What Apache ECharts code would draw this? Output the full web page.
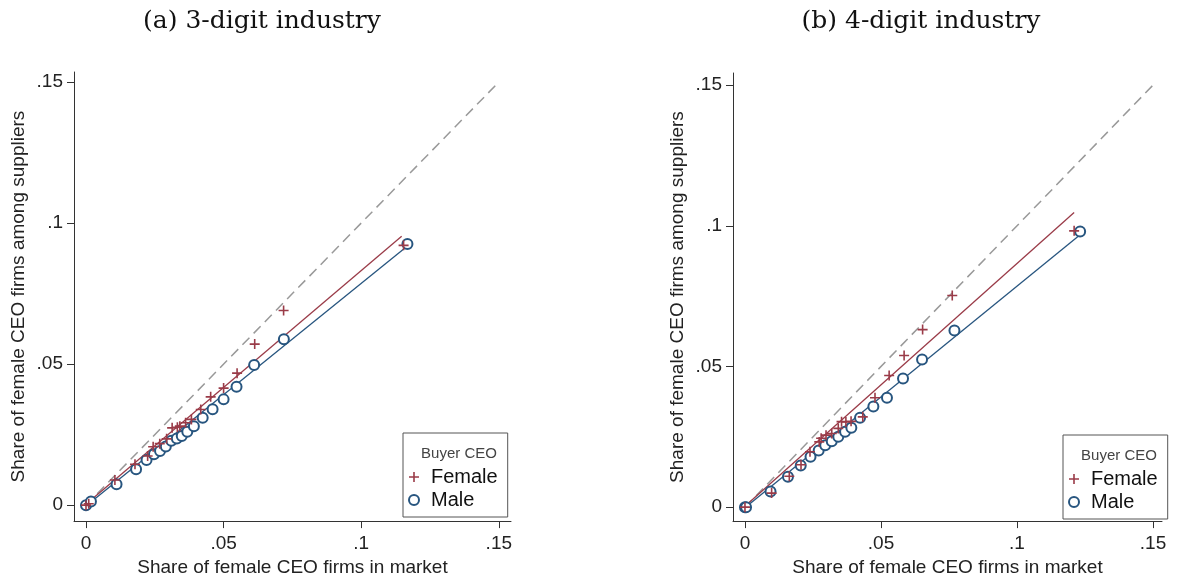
<!DOCTYPE html>
<html>
<head>
<meta charset="utf-8">
<script src="https://cdn.jsdelivr.net/npm/echarts@6/dist/echarts.min.js"></script>
<style>
html,body{margin:0;padding:0;background:#fff;}
#chart{width:1180px;height:582px;}
</style>
</head>
<body>
<div id="chart"></div>
<script>
// ---- Data ----
const panelTitles = ['(a) 3-digit industry', '(b) 4-digit industry'];
const xAxisTitle = 'Share of female CEO firms in market';
const yAxisTitle = 'Share of female CEO firms among suppliers';
const legendTitle = 'Buyer CEO';
const seriesNames = ['Female', 'Male'];
const tickValues = [0, 0.05, 0.1, 0.15];
const tickLabels = ['0', '.05', '.1', '.15'];

// Panel (a): 3-digit industry
const aFemaleX = [0, 0.001, 0.0105, 0.0178, 0.0224, 0.0244, 0.0268, 0.0293, 0.0313, 0.0332, 0.0341, 0.0362, 0.0383, 0.0417, 0.0453, 0.0500, 0.0549, 0.0613, 0.0718, 0.1154];
const aFemaleY = [0, 0.0005, 0.0089, 0.0145, 0.0174, 0.0207, 0.0218, 0.0235, 0.0274, 0.0276, 0.0280, 0.0292, 0.0304, 0.0339, 0.0384, 0.0415, 0.0468, 0.0571, 0.0690, 0.0921];
const aMaleX = [0, 0.0018, 0.0111, 0.0182, 0.0220, 0.0247, 0.0269, 0.0290, 0.0310, 0.0330, 0.0348, 0.0368, 0.0392, 0.0424, 0.0460, 0.0500, 0.0547, 0.0611, 0.0719, 0.1168];
const aMaleY = [0, 0.0013, 0.0074, 0.0127, 0.0160, 0.0180, 0.0192, 0.0208, 0.0228, 0.0236, 0.0245, 0.0260, 0.0280, 0.0310, 0.0340, 0.0375, 0.0420, 0.0497, 0.0588, 0.0926];
const aFitFemale = [[0, 0.0003], [0.1147, 0.0953]];
const aFitMale = [[0, -0.0003], [0.1159, 0.0912]];

// Panel (b): 4-digit industry
const bFemaleX = [0, 0.0098, 0.0163, 0.0206, 0.0239, 0.0273, 0.0280, 0.0298, 0.0319, 0.0343, 0.0355, 0.0371, 0.0390, 0.0433, 0.0478, 0.0530, 0.0585, 0.0653, 0.0762, 0.1210];
const bFemaleY = [0, 0.0050, 0.0110, 0.0151, 0.0197, 0.0232, 0.0245, 0.0256, 0.0262, 0.0280, 0.0304, 0.0303, 0.0305, 0.0321, 0.0389, 0.0468, 0.0539, 0.0631, 0.0752, 0.0982];
const bMaleX = [0, 0.0004, 0.0094, 0.0158, 0.0205, 0.0241, 0.0271, 0.0295, 0.0319, 0.0343, 0.0368, 0.0391, 0.0423, 0.0472, 0.0522, 0.0581, 0.0651, 0.0770, 0.1232];
const bMaleY = [0, 0, 0.0056, 0.0108, 0.0148, 0.0179, 0.0201, 0.0220, 0.0234, 0.0250, 0.0268, 0.0282, 0.0318, 0.0358, 0.0389, 0.0457, 0.0525, 0.0628, 0.0980];
const bFitFemale = [[0, 0.0003], [0.1210, 0.1047]];
const bFitMale = [[0, -0.0002], [0.1232, 0.0968]];

const diagonal = [[0, 0], [0.15, 0.15]];

// ---- Styles ----
const RED = '#9a3b48';
const BLUE = '#27557f';
const PLUS = 'path://M4.2,0 L5.8,0 L5.8,4.2 L10,4.2 L10,5.8 L5.8,5.8 L5.8,10 L4.2,10 L4.2,5.8 L0,5.8 L0,4.2 L4.2,4.2 Z';
const SANS = 'Liberation Sans, Arial, sans-serif';

function zip(xs, ys) { return xs.map((x, i) => [x, ys[i]]); }
function fmt(v) { const i = tickValues.findIndex(t => Math.abs(t - v) < 1e-9); return i >= 0 ? tickLabels[i] : ''; }

const panels = [
  {grid: {left: 74, top: 72, width: 437, height: 450}, xr: [-0.00436, 0.15443], yr: [-0.00566, 0.15357],
   f: zip(aFemaleX, aFemaleY), m: zip(aMaleX, aMaleY), ff: aFitFemale, fm: aFitMale,
   titleX: 257, legend: {left: 403, top: 433}},
  {grid: {left: 733, top: 73, width: 429, height: 450}, xr: [-0.0044, 0.1533], yr: [-0.00495, 0.1543],
   f: zip(bFemaleX, bFemaleY), m: zip(bMaleX, bMaleY), ff: bFitFemale, fm: bFitMale,
   titleX: 916, legend: {left: 1063, top: 435}}
];

const option = {
  backgroundColor: '#fff',
  animation: false,
  title: [],
  grid: [], xAxis: [], yAxis: [], legend: [], series: []
};

panels.forEach((p, k) => {
  option.title.push({text: panelTitles[k], left: p.titleX, top: 4, textAlign: 'center',
    textStyle: {fontFamily: 'DejaVu Serif, serif', fontWeight: 'normal', fontSize: 25, color: '#111'}});
  option.title.push({text: legendTitle, left: p.legend.left + 51, top: p.legend.top + 8, textAlign: 'center',
    textStyle: {fontFamily: SANS, fontWeight: 'normal', fontSize: 15, color: '#444'}});
  option.grid.push(Object.assign({containLabel: false}, p.grid));
  option.xAxis.push({
    type: 'value', gridIndex: k, min: p.xr[0], max: p.xr[1],
    name: xAxisTitle, nameLocation: 'middle', nameGap: 31,
    nameTextStyle: {fontFamily: SANS, fontSize: 19, color: '#222'},
    axisLine: {show: true, onZero: false, lineStyle: {color: '#333', width: 1}},
    axisTick: {show: true, customValues: tickValues, length: 7, lineStyle: {color: '#333'}},
    axisLabel: {customValues: tickValues, formatter: fmt, margin: 13, fontFamily: SANS, fontSize: 19, color: '#222'},
    splitLine: {show: false}
  });
  option.yAxis.push({
    type: 'value', gridIndex: k, min: p.yr[0], max: p.yr[1],
    name: yAxisTitle, nameLocation: 'middle', nameGap: 46, nameRotate: 90,
    nameTextStyle: {fontFamily: SANS, fontSize: 19, color: '#222'},
    axisLine: {show: true, onZero: false, lineStyle: {color: '#333', width: 1}},
    axisTick: {show: true, customValues: tickValues, length: 7, lineStyle: {color: '#333'}},
    axisLabel: {customValues: tickValues, formatter: fmt, margin: 11, fontFamily: SANS, fontSize: 19, color: '#222'},
    splitLine: {show: false}
  });
  option.legend.push({
    data: seriesNames, orient: 'vertical', left: p.legend.left, top: p.legend.top,
    padding: [34, 10, 7, 5], itemGap: 3, itemWidth: 10, itemHeight: 10,
    borderColor: '#555', borderWidth: 1, selectedMode: false,
    textStyle: {fontFamily: SANS, fontSize: 20, color: '#111', lineHeight: 20, padding: [0, 0, 0, 7]}
  });
  option.series.push({type: 'line', name: 'diag' + k, xAxisIndex: k, yAxisIndex: k, data: diagonal,
    symbol: 'none', lineStyle: {color: '#999', width: 1.5, type: [10, 6]}, z: 1, silent: true});
  option.series.push({type: 'line', name: 'fitF' + k, xAxisIndex: k, yAxisIndex: k, data: p.ff,
    symbol: 'none', lineStyle: {color: RED, width: 1.3}, z: 2, silent: true});
  option.series.push({type: 'line', name: 'fitM' + k, xAxisIndex: k, yAxisIndex: k, data: p.fm,
    symbol: 'none', lineStyle: {color: BLUE, width: 1.3}, z: 2, silent: true});
  option.series.push({type: 'scatter', name: 'Female', xAxisIndex: k, yAxisIndex: k, data: p.f,
    symbol: PLUS, symbolSize: 10, itemStyle: {color: RED, opacity: 1}, z: 4});
  option.series.push({type: 'scatter', name: 'Male', xAxisIndex: k, yAxisIndex: k, data: p.m,
    symbol: 'emptyCircle', symbolSize: 10, itemStyle: {color: BLUE, borderColor: BLUE, borderWidth: 1.5, opacity: 1}, z: 3});
});

const chart = echarts.init(document.getElementById('chart'), null, {renderer: 'canvas'});
chart.setOption(option);
</script>
</body>
</html>
